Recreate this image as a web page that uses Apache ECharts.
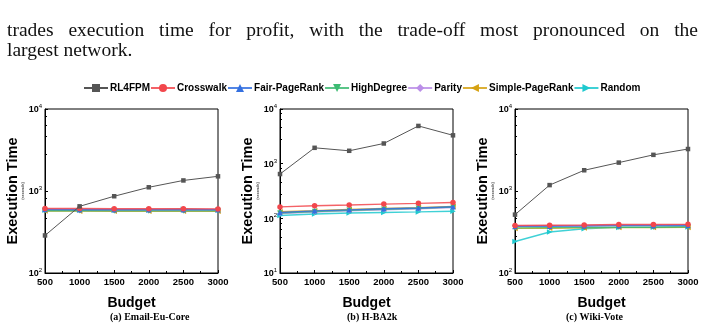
<!DOCTYPE html>
<html>
<head>
<meta charset="utf-8">
<script src="https://cdn.jsdelivr.net/npm/echarts@6/dist/echarts.min.js"></script>
<style>
  html, body { margin: 0; padding: 0; background: #fff; }
  #wrap { position: relative; width: 703px; height: 330px; overflow: hidden; }
  #text { position: absolute; left: 7px; top: 20px; width: 691px; font-family: 'Liberation Serif', serif; font-size: 19.5px; line-height: 20px; color: #111; }
  #text .l1 { text-align: justify; text-align-last: justify; }
  #chart { position: absolute; left: 0; top: 0; width: 703px; height: 330px; }
</style>
</head>
<body>
<div id="wrap">
  <div id="chart"></div>
  <div id="text">
    <div class="l1">trades execution time for profit, with the trade-off most pronounced on the</div>
    <div>largest network.</div>
  </div>
</div>
<script>
const budgets = [500, 1000, 1500, 2000, 2500, 3000];
const methods = ['RL4FPM', 'Crosswalk', 'Fair-PageRank', 'HighDegree', 'Parity', 'Simple-PageRank', 'Random'];
const captions = ['(a) Email-Eu-Core', '(b) H-BA2k', '(c) Wiki-Vote'];

// execution time (seconds), one row per method, in the order of `methods`
const emailEuCore = [
  [287, 650, 863, 1110, 1345, 1510],
  [612, 612, 608, 608, 608, 605],
  [595, 590, 590, 590, 592, 590],
  [575, 575, 572, 572, 572, 572],
  [600, 598, 595, 595, 595, 595],
  [570, 568, 565, 565, 565, 565],
  [585, 585, 588, 588, 598, 588]
];
const hBA2k = [
  [646, 1950, 1720, 2340, 4900, 3300],
  [162, 170, 175, 182, 188, 195],
  [128, 137, 143, 150, 155, 163],
  [125, 133, 140, 147, 153, 160],
  [122, 130, 137, 143, 150, 158],
  [132, 138, 145, 152, 157, 165],
  [113, 120, 125, 128, 131, 135]
];
const wikiVote = [
  [515, 1180, 1790, 2220, 2760, 3250],
  [380, 382, 385, 390, 390, 392],
  [370, 372, 375, 378, 378, 380],
  [355, 358, 360, 362, 362, 365],
  [375, 378, 380, 385, 385, 388],
  [350, 352, 355, 358, 358, 360],
  [242, 316, 346, 360, 362, 365]
];
const yMins = [100, 10, 100];
const yMax = 10000;

const colors = ['#555555', '#f2474c', '#3470e0', '#3dbb73', '#bb8ee8', '#d6a213', '#1fc9cf'];
const symbols = ['rect', 'circle', 'triangle', 'triangle', 'diamond', 'triangle', 'triangle'];
const rotates = [0, 0, 0, 180, 0, 90, -90];

const panels = [emailEuCore, hBA2k, wikiVote];
const gridLefts = [45, 280, 515];
const gridWidth = 173;
const captionX = [110, 347, 566];

const chart = echarts.init(document.getElementById('chart'));

const grids = gridLefts.map(l => ({
  left: l, top: 109, width: gridWidth, height: 164,
  show: true, borderColor: '#000', borderWidth: 1, backgroundColor: 'transparent'
}));

const xAxes = panels.map((p, i) => ({
  type: 'value', gridIndex: i, min: 500, max: 3000, interval: 500,
  name: 'Budget', nameLocation: 'middle', nameGap: 23,
  nameTextStyle: { fontFamily: 'Liberation Sans', fontWeight: 'bold', fontSize: 14, color: '#000' },
  axisLine: { lineStyle: { color: '#000', width: 1 } },
  axisTick: { inside: true, length: 3, lineStyle: { color: '#000' } },
  minorTick: { show: true, splitNumber: 2, length: 2, lineStyle: { color: '#000' } },
  axisLabel: {
    fontFamily: 'Liberation Sans', fontWeight: 'bold', fontSize: 9.5, color: '#000', margin: 4,
    formatter: v => String(v)
  },
  splitLine: { show: false }
}));

const yAxes = panels.map((p, i) => ({
  type: 'log', logBase: 10, gridIndex: i, min: yMins[i], max: yMax,
  name: '{a|Execution Time}\n{b|(seconds)}', nameLocation: 'middle', nameGap: 16, nameRotate: 90,
  nameTextStyle: {
    rich: {
      a: { fontFamily: 'Liberation Sans', fontWeight: 'bold', fontSize: 14.5, color: '#000', lineHeight: 15 },
      b: { fontFamily: 'Liberation Sans', fontSize: 4, color: '#000', lineHeight: 5 }
    }
  },
  axisLine: { lineStyle: { color: '#000', width: 1 } },
  axisTick: { inside: true, length: 3, lineStyle: { color: '#000' } },
  minorTick: { show: true, splitNumber: 5, length: 2, lineStyle: { color: '#000' } },
  axisLabel: {
    margin: 3,
    formatter: v => '{b|10}{s|' + Math.round(Math.log10(v)) + '}',
    rich: {
      b: { fontFamily: 'Liberation Sans', fontWeight: 'bold', fontSize: 9, color: '#000', lineHeight: 11, verticalAlign: 'bottom' },
      s: { fontFamily: 'Liberation Sans', fontSize: 6, color: '#000', lineHeight: 11, verticalAlign: 'top' }
    }
  },
  splitLine: { show: false }
}));

const series = [];
panels.forEach((p, i) => {
  methods.forEach((m, k) => {
    series.push({
      name: m, type: 'line', xAxisIndex: i, yAxisIndex: i,
      data: budgets.map((b, j) => [b, p[k][j]]),
      symbol: symbols[k], symbolRotate: rotates[k], symbolSize: k === 0 ? 4.5 : 5.5,
      lineStyle: { width: k === 0 ? 1 : 1.4, color: colors[k], opacity: k === 0 ? 1 : 0.85 },
      itemStyle: { color: colors[k] },
      z: 10 - k,
      animation: false
    });
  });
});

chart.setOption({
  animation: false,
  legend: {
    data: methods, left: 83, top: 83, padding: 0,
    itemWidth: 24, itemHeight: 10, itemGap: 0,
    textStyle: { fontFamily: 'Liberation Sans', fontWeight: 'bold', fontSize: 10, color: '#000', padding: [0, 0, 0, -3] }
  },
  grid: grids,
  xAxis: xAxes,
  yAxis: yAxes,
  series: series,
  graphic: captions.map((c, i) => ({
    type: 'text', left: captionX[i], top: 312,
    style: { text: c, fill: '#000', font: 'bold 10px "Liberation Serif"', textAlign: 'center' }
  }))
});
</script>
</body>
</html>
